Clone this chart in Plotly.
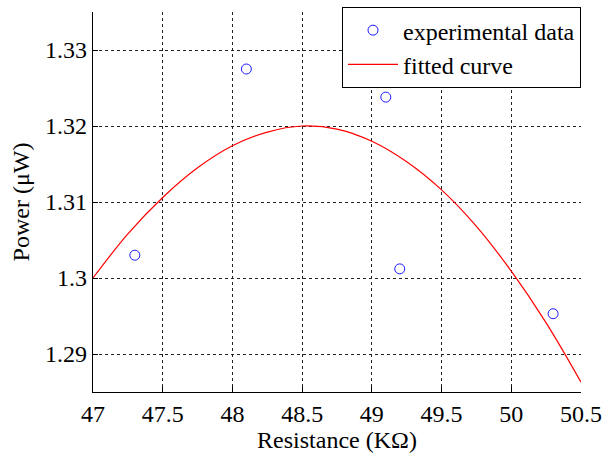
import plotly.graph_objects as go

# experimental data
exp_resistance = [47.3, 48.1, 49.1, 49.2, 50.3]
exp_power = [1.3030, 1.3275, 1.3238, 1.3012, 1.2953]

# fitted curve
fit_resistance = [47.0, 47.25, 47.5, 47.75, 48.0, 48.25, 48.5, 48.75,
                  49.0, 49.25, 49.5, 49.75, 50.0, 50.25, 50.5]
fit_power = [1.3000, 1.3058, 1.3106, 1.3145, 1.3174, 1.3192, 1.3200, 1.3196,
             1.3180, 1.3153, 1.3116, 1.3068, 1.3009, 1.2941, 1.2863]

x_ticks = [47, 47.5, 48, 48.5, 49, 49.5, 50, 50.5]
x_ticktext = ["47", "47.5", "48", "48.5", "49", "49.5", "50", "50.5"]
y_ticks = [1.29, 1.30, 1.31, 1.32, 1.33]
y_ticktext = ["1.29", "1.3", "1.31", "1.32", "1.33"]

FONT = "Liberation Serif"

fig = go.Figure()
fig.add_trace(go.Scatter(
    x=exp_resistance, y=exp_power, mode="markers", name="experimental data",
    marker=dict(symbol="circle-open", size=10, color="#1a1aff",
                line=dict(width=1, color="#1a1aff")),
))
fig.add_trace(go.Scatter(
    x=fit_resistance, y=fit_power, mode="lines", name="fitted curve",
    line=dict(color="#ff0000", width=1.2, shape="spline"),
))

axis_common = dict(
    showline=True, linecolor="black", linewidth=1.2,
    ticks="inside", ticklen=5, tickcolor="black",
    showgrid=True, gridcolor="#222222", gridwidth=1, griddash="3px,3px",
    zeroline=False, mirror=False, automargin=False,
    tickfont=dict(family=FONT, size=24, color="black"),
)

fig.update_layout(
    width=604, height=454,
    margin=dict(l=93, r=23, t=12, b=62, autoexpand=False),
    paper_bgcolor="white", plot_bgcolor="white",
    font=dict(family=FONT, size=24, color="black"),
    showlegend=True,
    legend=dict(
        x=1.0, y=1.013, xanchor="right", yanchor="top",
        bgcolor="white", bordercolor="black", borderwidth=1,
        font=dict(family=FONT, size=24, color="black"),
        tracegroupgap=0, itemwidth=50,
    ),
    xaxis=dict(
        range=[47, 50.5], tickvals=x_ticks, ticktext=x_ticktext,
        title=dict(text="Resistance (KΩ)", font=dict(family=FONT, size=24), standoff=2),
        **axis_common,
    ),
    yaxis=dict(
        range=[1.285, 1.335], tickvals=y_ticks, ticktext=y_ticktext,
        title=dict(text="Power (μW)", font=dict(family=FONT, size=24), standoff=8),
        **axis_common,
    ),
)

fig.write_html("out.html", config={"displayModeBar": False},
               post_script="document.body.style.margin='0';document.body.style.padding='0';")
